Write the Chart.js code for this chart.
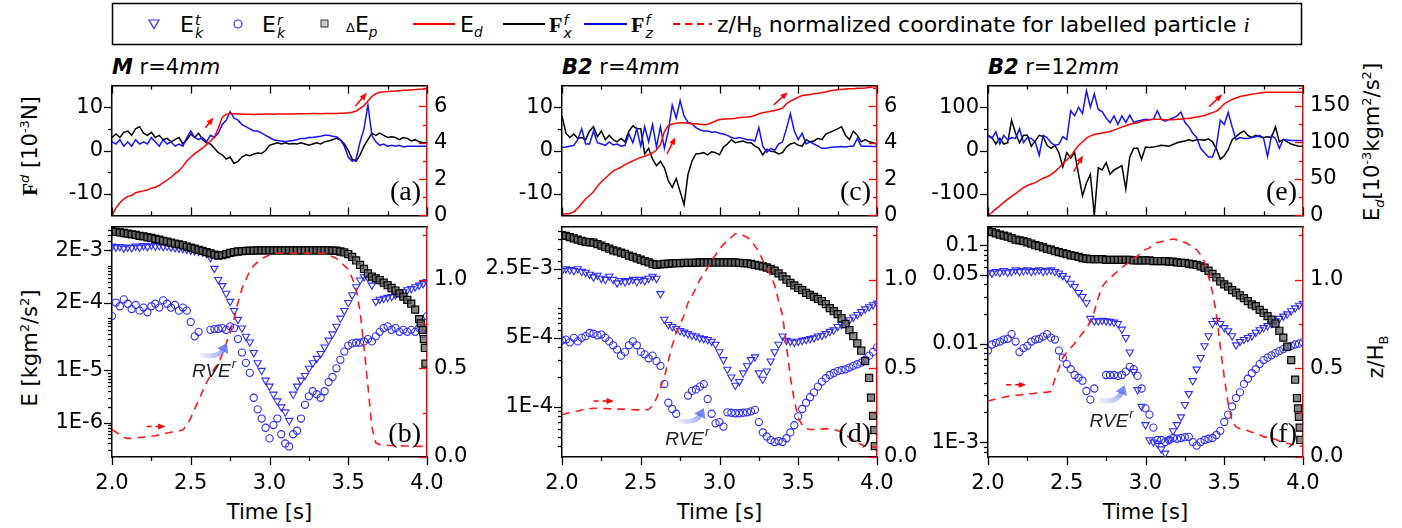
<!DOCTYPE html>
<html>
<head>
<meta charset="utf-8">
<script src="https://cdn.jsdelivr.net/npm/chart.js@4.4.1/dist/chart.umd.min.js"></script>
<style>
html,body{margin:0;padding:0;background:#fff;}
body{position:relative;width:1402px;height:528px;overflow:hidden;font-family:"DejaVu Sans",sans-serif;color:#000;}
canvas{position:absolute;}
.tx{position:absolute;white-space:nowrap;line-height:1;}
.rot{transform:translate(-50%,-50%) rotate(-90deg);}
.ss{display:inline-block;font-size:14px;line-height:13px;vertical-align:-6px;margin-left:1px;font-style:italic;}
.ss>span{display:block;}
.bf{font-family:"Liberation Serif",serif;font-weight:bold;}
sup,sub{font-size:0.62em;line-height:0;}
</style>
</head>
<body>
<svg width="1402" height="528" style="position:absolute;left:0;top:0;">
 <rect x="112.5" y="3.5" width="1189" height="41" fill="none" stroke="#000" stroke-width="1.5"/>
 <polygon points="149,20 159,20 154,28.5" fill="none" stroke="#2e2eff" stroke-width="1.2"/>
 <circle cx="238" cy="24" r="4" fill="none" stroke="#2e2eff" stroke-width="1.2"/>
 <rect x="321" y="20" width="7" height="7" fill="#ccc" stroke="#333" stroke-width="1"/>
 <line x1="413" y1="24" x2="455" y2="24" stroke="#f00" stroke-width="2"/>
 <line x1="503" y1="24" x2="545" y2="24" stroke="#000" stroke-width="2"/>
 <line x1="584" y1="24" x2="627" y2="24" stroke="#00f" stroke-width="2"/>
 <line x1="673" y1="24" x2="712" y2="24" stroke="#f00" stroke-width="2" stroke-dasharray="7,5"/>
</svg>
<div class="tx" style="left:180px;top:14px;font-size:22px">E<span class="ss"><span>t</span><span>k</span></span></div>
<div class="tx" style="left:262px;top:14px;font-size:22px">E<span class="ss"><span>r</span><span>k</span></span></div>
<div class="tx" style="left:346px;top:14px;font-size:22px"><span style="font-size:13px">Δ</span>E<sub><i>p</i></sub></div>
<div class="tx" style="left:460px;top:14px;font-size:22px">E<sub><i>d</i></sub></div>
<div class="tx" style="left:549px;top:14px;font-size:22px"><span class="bf">F</span><span class="ss"><span>f</span><span>x</span></span></div>
<div class="tx" style="left:631px;top:14px;font-size:22px"><span class="bf">F</span><span class="ss"><span>f</span><span>z</span></span></div>
<div class="tx" style="left:717px;top:14px;font-size:22px">z/H<sub>B</sub> normalized coordinate for labelled particle <i style="font-family:'Liberation Serif',serif">i</i></div>

<div class="tx" style="left:112px;top:57px;font-size:21px"><b><i>M</i></b> r=4<i>mm</i></div>
<div class="tx" style="left:562px;top:57px;font-size:21px"><b><i>B2</i></b> r=4<i>mm</i></div>
<div class="tx" style="left:988px;top:57px;font-size:21px"><b><i>B2</i></b> r=12<i>mm</i></div>

<div class="tx rot" style="left:30px;top:146px;font-size:21px"><span class="bf">F</span><sup><i>d</i></sup> [10<sup>-3</sup>N]</div>
<div class="tx rot" style="left:30px;top:348px;font-size:21px">E [kgm<sup>2</sup>/s<sup>2</sup>]</div>
<div class="tx rot" style="left:1372px;top:142px;font-size:21px">E<sub><i>d</i></sub>[10<sup>-3</sup>kgm<sup>2</sup>/s<sup>2</sup>]</div>
<div class="tx rot" style="left:1376px;top:357px;font-size:21px">z/H<sub>B</sub></div>

<div class="tx" style="left:269.5px;top:502px;font-size:21px;transform:translateX(-50%)">Time [s]</div>
<div class="tx" style="left:719.5px;top:502px;font-size:21px;transform:translateX(-50%)">Time [s]</div>
<div class="tx" style="left:1145.5px;top:502px;font-size:21px;transform:translateX(-50%)">Time [s]</div>

<script>
// ---------- time axis (s) ----------
const T = [2.000,2.025,2.050,2.075,2.100,2.125,2.150,2.175,2.200,2.225,2.250,2.275,2.300,2.325,2.350,2.375,2.400,2.425,2.450,2.475,2.500,2.525,2.550,2.575,2.600,2.625,2.650,2.675,2.700,2.725,2.750,2.775,2.800,2.825,2.850,2.875,2.900,2.925,2.950,2.975,3.000,3.025,3.050,3.075,3.100,3.125,3.150,3.175,3.200,3.225,3.250,3.275,3.300,3.325,3.350,3.375,3.400,3.425,3.450,3.475,3.500,3.525,3.550,3.575,3.600,3.625,3.650,3.675,3.700,3.725,3.750,3.775,3.800,3.825,3.850,3.875,3.900,3.925,3.950,3.975,4.000];

// ---------- panel (a): M r=4mm ----------
const fxA = [3.0,3.8,3.0,4.2,4.5,3.5,5.0,5.5,4.0,3.5, 4.2,3.0,3.5,2.5,2.8,2.0,2.5,3.0,1.5,2.5, 3.8,3.0,4.0,2.5,1.8,1.5,0.5,-0.5,-1.0,-2.0, -1.5,-3.0,-2.5,-1.5,-1.0,-1.2,-0.8,-0.6,-0.7,0.0, 1.2,1.5,1.8,1.5,1.8,1.5,1.6,1.5,1.8,1.5, 1.2,1.5,1.8,1.5,2.0,2.2,2.5,2.8,2.5,1.5, 0.0,-2.0,-2.5,-1.0,1.0,2.5,4.0,3.5,4.0,3.5, 3.0,3.2,3.0,2.5,3.0,2.8,2.2,2.5,2.0,1.8, 1.8];
const fzA = [2.0,1.5,2.5,1.0,2.0,1.0,2.5,1.5,2.0,1.5, 3.0,2.0,1.0,2.5,1.5,2.0,1.0,1.5,1.0,3.0, 4.5,3.0,2.5,3.0,2.0,3.5,3.0,4.0,6.0,7.0, 9.0,7.5,7.0,6.0,5.5,5.0,4.5,4.5,4.0,3.5, 3.0,2.5,2.3,2.2,2.0,2.2,2.3,2.5,2.8,2.8, 3.0,3.0,3.2,3.3,3.5,3.5,3.3,3.2,2.5,1.0, -1.5,-2.5,-2.0,2.0,5.0,10.5,3.5,2.0,1.2,1.5, 1.0,1.2,1.0,1.2,0.8,1.0,1.0,1.0,1.0,1.0, 1.0];
const edA = [0.0,0.4,0.7,0.9,1.05,1.1,1.25,1.3,1.35,1.4, 1.5,1.55,1.65,1.8,1.95,2.1,2.3,2.45,2.7,3.0, 3.2,3.4,3.55,3.7,3.9,4.1,4.3,4.8,5.4,5.58, 5.6,5.6,5.58,5.58,5.57,5.57,5.56,5.57,5.57,5.58, 5.58,5.57,5.58,5.58,5.59,5.58,5.59,5.6,5.6,5.6, 5.6,5.61,5.61,5.6,5.61,5.62,5.62,5.62,5.63,5.63, 5.65,5.68,5.75,5.9,6.05,6.3,6.55,6.7,6.78,6.8, 6.82,6.84,6.85,6.87,6.89,6.9,6.92,6.93,6.95,6.96, 6.98];

// ---------- panel (b) ----------
const ekTB = [2.4e-3,2.3e-3,2.35e-3,2.2e-3,2.3e-3,2.25e-3,2.4e-3,2.3e-3,2.45e-3,2.35e-3, 2.5e-3,2.4e-3,2.45e-3,2.35e-3,2.4e-3,2.3e-3,2.25e-3,2.2e-3,2.15e-3,2.1e-3, 2.0e-3,1.95e-3,1.9e-3,1.85e-3,1.75e-3,1.45e-3,9e-4,5.5e-4,4.2e-4,3e-4, 2.1e-4,1.4e-4,9.5e-5,6.5e-5,4.5e-5,3.5e-5,2.2e-5,1.4e-5,1e-5,6.5e-6, 5e-6,3.5e-6,2.6e-6,2e-6,1.6e-6,1.1e-6,3.5e-6,5e-6,6.5e-6,8e-6, 1.1e-5,1.4e-5,1.7e-5,2.1e-5,2.8e-5,3.8e-5,5e-5,7e-5,1e-4,1.4e-4, 2e-4,2.8e-4,4e-4,5.4e-4,6.2e-4,6e-4,4.3e-4,2.1e-4,2.3e-4,2.4e-4, 2.5e-4,2.6e-4,2.8e-4,3e-4,3.2e-4,3.5e-4,3.7e-4,4e-4,4.3e-4,4.6e-4, 5e-4];
const ekRB = [1.1e-4,2e-4,1.7e-4,2.3e-4,1.9e-4,1.5e-4,1.8e-4,1.4e-4,1.6e-4,1.3e-4, 1.7e-4,1.9e-4,1.6e-4,2.2e-4,1.9e-4,1.6e-4,1.8e-4,1.4e-4,1.6e-4,1.4e-4, 8.5e-5,4.5e-5,5.5e-5,null,null,6e-5,6.2e-5,6.3e-5,6.5e-5,6e-5, 7e-5,6.5e-5,4e-5,2.2e-5,1.4e-5,9e-6,3e-6,1.8e-6,1.2e-6,8e-7, 5e-7,9e-7,1.2e-6,6e-7,4e-7,3.5e-7,6e-7,7e-7,1.2e-6,2.2e-6, 3.2e-6,4e-6,3.5e-6,3e-6,4e-6,6e-6,7.5e-6,1.1e-5,1.6e-5,2.3e-5, 3e-5,3.3e-5,3.4e-5,3.4e-5,3.6e-5,4e-5,3.6e-5,4.5e-5,5.5e-5,6.5e-5, 7e-5,6e-5,6.5e-5,5.5e-5,6e-5,5.5e-5,6e-5,5.5e-5,6.5e-5,5e-5, 1.1e-4];
const epB = [4.6e-3,4.5e-3,4.4e-3,4.3e-3,4.2e-3,4.05e-3,3.95e-3,3.8e-3,3.7e-3,3.55e-3, 3.45e-3,3.3e-3,3.2e-3,3.05e-3,2.95e-3,2.8e-3,2.7e-3,2.6e-3,2.5e-3,2.35e-3, 2.25e-3,2.15e-3,2.05e-3,1.95e-3,1.85e-3,1.75e-3,1.65e-3,1.58e-3,1.62e-3,1.7e-3, 1.78e-3,1.85e-3,1.9e-3,1.93e-3,1.95e-3,1.97e-3,1.98e-3,2.0e-3,2.0e-3,2.0e-3, 2.0e-3,2.0e-3,2.0e-3,2.0e-3,2.0e-3,2.0e-3,2.0e-3,2.0e-3,2.0e-3,2.0e-3, 2.0e-3,2.0e-3,2.0e-3,2.0e-3,1.99e-3,1.99e-3,1.98e-3,1.97e-3,1.9e-3,1.82e-3, 1.7e-3,1.5e-3,1.28e-3,1.05e-3,8.8e-4,7.2e-4,6.3e-4,5.8e-4,5.4e-4,4.8e-4, 4.3e-4,3.8e-4,3.4e-4,3.0e-4,2.6e-4,2.25e-4,1.9e-4,1.46e-4,9.6e-5];
const tEpTailB = [3.96,3.972,3.98,3.986,3.99];
const epTailB = [8e-5,6e-5,4e-5,2.7e-5,1.35e-5];
const zB = [0.155,0.14,0.125,0.11,0.105,0.105,0.108,0.11,0.112,0.115, 0.117,0.12,0.125,0.13,0.135,0.14,0.145,0.148,0.152,0.18, 0.22,0.27,0.32,0.37,0.42,0.46,0.5,0.53,0.58,0.64, 0.7,0.78,0.87,0.95,1.0,1.05,1.08,1.1,1.12,1.13, 1.14,1.15,1.15,1.15,1.15,1.15,1.15,1.15,1.15,1.15, 1.15,1.15,1.15,1.15,1.15,1.14,1.13,1.12,1.1,1.08, 1.06,1.01,0.95,0.82,0.62,0.4,0.17,0.08,0.07,0.068, 0.066,0.065,0.064,0.063,0.062,0.062,0.061,0.061,0.06,0.06, 0.06];

// ---------- panel (c): B2 r=4mm ----------
const fxC = [8.0,4.0,3.0,3.8,2.8,3.0,2.5,4.5,5.5,3.2, 4.5,2.5,3.5,2.5,2.0,2.8,2.0,4.5,5.7,5.0, 5.0,-0.8,0.5,-2.0,-3.5,-2.5,-4.0,-7.0,-8.5,-6.5, -9.5,-12.5,-5.5,-2.5,-0.8,-0.7,-0.5,-1.0,-0.3,-0.5, -1.0,0.8,1.5,2.5,1.8,2.0,2.2,1.8,1.8,1.0, 0.5,-1.0,0.3,-0.2,-0.3,-0.8,-0.5,0.8,1.5,1.8, 1.2,1.0,2.5,2.0,2.2,2.8,2.5,3.8,4.2,4.6, 5.0,5.5,3.5,2.5,4.5,3.5,2.0,2.5,2.0,1.8, 1.5];
const fzC = [0.7,0.8,1.0,1.2,2.5,5.0,1.5,1.5,4.5,1.8, 1.5,1.2,2.0,1.3,1.5,1.0,1.2,3.8,1.8,5.0, 1.0,5.5,2.0,6.0,0.8,5.5,0.5,4.5,10.5,7.5, 11.5,8.0,6.5,6.2,5.3,4.8,4.5,4.5,4.2,4.3, 4.0,3.8,3.5,3.0,2.8,3.0,2.8,2.5,2.5,2.2, 5.3,1.0,-0.4,0.5,0.0,1.5,2.0,5.0,8.5,4.5, 2.5,4.0,1.5,2.0,1.5,1.0,0.5,0.5,0.7,0.8, 0.8,0.9,0.8,1.0,1.0,2.8,1.0,1.0,1.0,0.9, 0.9];
const edC = [0.08,0.08,0.1,0.2,0.4,0.65,0.9,1.1,1.3,1.6, 1.85,2.05,2.25,2.45,2.55,2.65,2.8,2.9,3.0,3.1, 3.2,3.25,3.35,3.45,3.6,3.9,4.6,4.95,5.03,5.08, 5.1,5.1,5.08,5.05,5.05,5.02,5.0,5.02,5.1,5.2, 5.28,5.3,5.32,5.33,5.35,5.38,5.4,5.42,5.45,5.5, 5.6,5.66,5.7,5.74,5.78,5.83,5.9,6.15,6.3,6.4, 6.5,6.6,6.63,6.66,6.7,6.73,6.76,6.8,6.85,6.9, 6.92,6.94,6.96,6.97,6.98,7.0,7.0,7.02,7.05,7.08, 7.1];

// ---------- panel (d) ----------
const ekTD = [2.4e-3,2.5e-3,2.45e-3,2.4e-3,2.5e-3,2.35e-3,2.3e-3,2.2e-3,2.07e-3,2.15e-3, 2.0e-3,1.95e-3,2.1e-3,1.95e-3,1.8e-3,1.9e-3,1.85e-3,1.9e-3,1.95e-3,1.85e-3, 1.95e-3,1.9e-3,2.0e-3,2.1e-3,2.0e-3,1.4e-3,7.7e-4,6.8e-4,6.5e-4,6.2e-4, 5.9e-4,5.7e-4,5.5e-4,5.3e-4,5.2e-4,5.0e-4,4.9e-4,4.8e-4,4.6e-4,4.3e-4, 3.6e-4,3.0e-4,2.4e-4,2.0e-4,1.65e-4,1.8e-4,2.2e-4,2.6e-4,3.0e-4,3.2e-4, 2.2e-4,1.9e-4,2.3e-4,2.9e-4,3.6e-4,4.3e-4,5.2e-4,4.7e-4,4.6e-4,4.5e-4, 4.6e-4,4.7e-4,4.8e-4,4.9e-4,5.0e-4,5.2e-4,5.3e-4,5.5e-4,5.8e-4,6.0e-4, 6.5e-4,6.8e-4,7.2e-4,7.6e-4,8.1e-4,8.6e-4,9.2e-4,9.8e-4,1.03e-3,1.08e-3, 1.12e-3];
const ekRD = [4.7e-4,4.8e-4,4.5e-4,5.0e-4,4.6e-4,5.0e-4,5.2e-4,5.6e-4,5.5e-4,5.3e-4, 5.4e-4,5.0e-4,4.6e-4,4.2e-4,3.8e-4,3.3e-4,3.6e-4,4.2e-4,4.6e-4,4.2e-4, 3.6e-4,3.4e-4,3.1e-4,3.3e-4,2.9e-4,2.6e-4,1.7e-4,1.1e-4,9.5e-5,8.5e-5, null,null,1.3e-4,1.45e-4,1.5e-4,1.6e-4,1.7e-4,1.2e-4,8.5e-5,6.8e-5, 7e-5,6.3e-5,8.8e-5,8.7e-5,8.6e-5,8.6e-5,8.7e-5,8.8e-5,9e-5,9.3e-5, 7e-5,5.5e-5,5e-5,4.6e-5,4.4e-5,4.5e-5,4.4e-5,4.8e-5,5.5e-5,6.5e-5, 8e-5,9.5e-5,1.1e-4,1.25e-4,1.4e-4,1.6e-4,1.8e-4,1.95e-4,2.1e-4,2.2e-4, 2.3e-4,2.35e-4,2.4e-4,2.5e-4,2.6e-4,2.7e-4,2.8e-4,3.0e-4,3.3e-4,3.6e-4, 4.0e-4];
const epD = [5.5e-3,5.4e-3,5.25e-3,5.1e-3,4.95e-3,4.8e-3,4.7e-3,4.65e-3,4.6e-3,4.45e-3, 4.3e-3,4.15e-3,4.0e-3,3.85e-3,3.75e-3,3.65e-3,3.55e-3,3.4e-3,3.3e-3,3.2e-3, 3.1e-3,3.0e-3,2.9e-3,2.8e-3,2.75e-3,2.78e-3,2.8e-3,2.82e-3,2.84e-3,2.85e-3, 2.86e-3,2.87e-3,2.88e-3,2.88e-3,2.89e-3,2.9e-3,2.9e-3,2.9e-3,2.9e-3,2.9e-3, 2.9e-3,2.9e-3,2.9e-3,2.9e-3,2.9e-3,2.88e-3,2.86e-3,2.84e-3,2.8e-3,2.75e-3, 2.7e-3,2.65e-3,2.58e-3,2.5e-3,2.4e-3,2.25e-3,2.1e-3,1.95e-3,1.8e-3,1.7e-3, 1.6e-3,1.52e-3,1.43e-3,1.36e-3,1.3e-3,1.24e-3,1.18e-3,1.1e-3,1.0e-3,9.3e-4, 8.7e-4,7.9e-4,6.9e-4,6.0e-4,5.2e-4,4.4e-4,3.7e-4,2.9e-4,1.96e-4];
const tEpTailD = [3.962,3.975,3.983,3.986];
const epTailD = [1.24e-4,8.1e-5,5.8e-5,4e-5];
const zD = [0.238,0.245,0.25,0.255,0.26,0.265,0.268,0.272,0.275,0.275, 0.274,0.273,0.272,0.271,0.27,0.27,0.269,0.268,0.267,0.266, 0.266,0.266,0.268,0.29,0.33,0.39,0.45,0.54,0.63,0.7, 0.75,0.8,0.87,0.91,0.95,1.0,1.03,1.07,1.11,1.14, 1.17,1.2,1.22,1.24,1.26,1.26,1.25,1.24,1.22,1.19, 1.16,1.11,1.07,1.02,0.97,0.88,0.8,0.63,0.45,0.32, 0.22,0.18,0.16,0.155,0.155,0.156,0.158,0.16,0.158,0.155, 0.15,0.14,0.125,0.11,0.095,0.08,0.07,0.062,0.058,0.055, 0.055];

// ---------- panel (e): B2 r=12mm ----------
const fxE = [35,30,15,28,15,18,70,40,18,35, 35,10,22,35,32,12,5,12,-5,-38, -5,-18,-5,-55,-105,-75,-55,-150,-40,-45, -28,-55,-45,-40,-35,-89,-15,5,5,-20, 8,7,8,10,12,11,10,14,18,20, 22,25,22,25,25,24,27,20,4,-20, -12,2,25,32,40,45,35,30,35,32, 30,32,30,55,20,25,20,15,12,10, 10];
const fzE = [35,28,43,15,35,25,30,28,50,18, 30,28,20,-11,35,30,18,12,14,32, 25,92,80,100,85,138,100,131,95,90, 75,64,80,60,80,65,82,65,68,70, 72,71,72,92,72,68,72,75,80,89, 65,55,40,30,5,-5,-15,-15,10,70, 60,88,55,25,30,28,28,30,32,35, 28,-14,35,28,5,26,24,23,23,23, 23];
const edE = [0,4,9,13,18,22,26,30,34,38, 41,43,45,48,51,53,56,60,65,71, 76,81,89,96,101,106,109,111,112,113, 114,115,117,119,121,123,125,126,127,129, 130,131,132,132,132,131,131,131,132,132, 133,133,134,135,136,137,139,141,143,147, 153,156,159,161,163,164,165,166,167,168, 168.5,169,169,169,169,169,169,169,169,169, 169];

// ---------- panel (f) ----------
const ekTF = [0.053,0.052,0.054,0.053,0.055,0.053,0.054,0.056,0.054,0.055, 0.056,0.054,0.055,0.056,0.054,0.055,0.056,0.054,0.052,0.049, 0.046,0.041,0.038,0.033,0.03,0.026,0.018,0.017,0.017,0.0172, 0.017,0.0168,0.0165,0.016,0.014,0.0115,0.0082,0.0052,0.0034,0.0023, 0.0015,0.00105,0.001,0.00097,0.00085,0.00077,0.00105,0.0013,0.0015,0.0018, 0.0024,0.0031,0.0042,0.0055,0.0072,0.0095,0.012,0.016,0.0172,0.016, 0.0145,0.0135,0.012,0.0097,0.0105,0.011,0.0115,0.012,0.013,0.0138, 0.0145,0.0152,0.016,0.017,0.018,0.019,0.02,0.0215,0.023,0.0245, 0.0257];
const ekRF = [0.0085,0.0098,0.0102,0.0105,0.011,0.0112,0.0125,0.0105,0.0082,0.009, 0.0095,0.0105,0.011,0.0112,0.0118,0.0125,0.0115,0.011,0.0085,0.0072, 0.0062,0.0055,0.0048,0.0045,0.0042,0.0033,0.0027,0.0035,null,null, 0.0048,0.0048,0.0048,0.0047,0.0048,0.0052,0.0058,0.0055,0.0047,0.0035, 0.0022,0.0019,0.0014,0.00105,0.00105,0.001,0.00105,0.0011,0.00108,0.0011, 0.00112,0.00113,0.001,0.00092,0.001,0.00105,0.00108,0.0011,0.00118,0.0013, 0.0016,0.0019,0.0023,0.0028,0.0032,0.0039,0.0044,0.005,0.0055,0.0062, 0.0068,0.0072,0.0076,0.008,0.0084,0.0088,0.0092,0.0095,0.0098,0.01, 0.0103];
const epF = [0.14,0.136,0.132,0.128,0.125,0.122,0.118,0.114,0.112,0.11, 0.107,0.104,0.1,0.098,0.095,0.092,0.09,0.087,0.085,0.083, 0.081,0.079,0.078,0.076,0.074,0.073,0.072,0.072,0.072,0.072, 0.071,0.071,0.071,0.071,0.071,0.071,0.071,0.07,0.07,0.07, 0.07,0.07,0.069,0.069,0.069,0.069,0.068,0.068,0.067,0.066, 0.066,0.065,0.064,0.063,0.061,0.059,0.055,0.051,0.047,0.043, 0.04,0.038,0.035,0.033,0.031,0.029,0.027,0.025,0.024,0.022, 0.0205,0.019,0.0175,0.016,0.0135,0.0115,0.0093,0.0068,0.0043];
const tEpTailF = [3.962,3.968,3.974,3.979,3.983];
const epTailF = [0.0028,0.0022,0.0018,0.0014,0.00105];
const zF = [0.316,0.322,0.328,0.333,0.337,0.342,0.345,0.348,0.35,0.352, 0.355,0.357,0.36,0.362,0.364,0.366,0.37,0.44,0.5,0.56, 0.59,0.615,0.64,0.67,0.7,0.72,0.77,0.82,0.9,0.96, 0.99,1.01,1.03,1.05,1.07,1.085,1.1,1.12,1.135,1.155, 1.17,1.18,1.2,1.21,1.215,1.22,1.225,1.23,1.225,1.22, 1.21,1.2,1.18,1.17,1.14,1.1,1.02,0.93,0.81,0.62, 0.45,0.3,0.2,0.17,0.16,0.155,0.148,0.14,0.133,0.125, 0.115,0.11,0.105,0.1,0.09,0.085,0.077,0.072,0.068,0.062, 0.06];

// ---------- ticks ----------
const xTicks = [2.0,2.5,3.0,3.5,4.0];
const xTickLabels = ["2.0","2.5","3.0","3.5","4.0"];
const xMinor = [2.25,2.75,3.25,3.75];
const fTicksAC = [-10,0,10], fMinorAC = [-5,5];
const fTicksE = [-100,0,100], fMinorE = [-50,50];
const edTicksAC = [0,2,4,6], edMinorAC = [1,3,5,7];
const edTicksE = [0,50,100,150], edMinorE = [25,75,125,175];
const zTicks = [0,0.5,1.0], zTickLabels = ["0.0","0.5","1.0"], zMinor = [0.25,0.75,1.25];
const logTicksB = [2e-3,2e-4,1e-5,1e-6], logLabelsB = ["2E-3","2E-4","1E-5","1E-6"];
const logTicksD = [2.5e-3,5e-4,1e-4], logLabelsD = ["2.5E-3","5E-4","1E-4"];
const logTicksF = [0.1,0.05,0.01,1e-3], logLabelsF = ["0.1","0.05","0.01","1E-3"];

// ---------- annotations (data coords) ----------
const arrowsA = [[2.593,4.83,2.645,5.39],[3.545,6.02,3.619,6.75]];
const arrowsC = [[2.667,3.38,2.72,4.31],[3.344,6.08,3.433,6.79]];
const arrowsE = [[2.544,60,2.603,82],[3.403,149,3.488,166]];
const dashArrowB = [2.22,0.172,2.34,0.172];
const dashArrowD = [2.20,0.316,2.33,0.316];
const dashArrowF = [2.116,0.407,2.243,0.407];
const rveArrowB = [2.56,1.95e-5,2.73,3.36e-5], rveTextB = [2.508,7.4e-6];
const rveArrowD = [2.74,7.2e-5,2.90,9.7e-5], rveTextD = [2.656,4.1e-5];
const rveArrowF = [2.709,2.65e-3,2.868,3.77e-3], rveTextF = [2.645,1.42e-3];

// ---------- helpers ----------
const FONT = {family:'DejaVu Sans', size:21};
const BLUE_M = '#2e2eff';
const pts = (xs, ys) => ys.map((y,i) => ({x: xs[i], y: y}));
const setTicks = vals => s => { s.ticks = vals.map(v => ({value: v})); };
const labelFrom = (vals, labels) => v => { const i = vals.findIndex(u => Math.abs(u - v) <= Math.abs(u) * 1e-9 + 1e-12); return i >= 0 ? labels[i] : ''; };
function logMinors(min, max, majors) {
  const out = [];
  for (let e = Math.floor(Math.log10(min)); e <= Math.ceil(Math.log10(max)); e++)
    for (let k = 1; k <= 9; k++) {
      const v = k * Math.pow(10, e);
      if (v >= min && v <= max && !majors.some(m => Math.abs(m - v) < v * 1e-6)) out.push(v);
    }
  return out;
}
function toPx(chart, ax, p) { return [chart.scales.x.getPixelForValue(p[0]), chart.scales[ax].getPixelForValue(p[1])]; }
function drawArrow(ctx, a, b, color, dash, w, head) {
  const ang = Math.atan2(b[1] - a[1], b[0] - a[0]);
  ctx.strokeStyle = color; ctx.fillStyle = color; ctx.lineWidth = w; ctx.setLineDash(dash || []);
  ctx.beginPath(); ctx.moveTo(a[0], a[1]); ctx.lineTo(b[0] - Math.cos(ang) * head * 0.7, b[1] - Math.sin(ang) * head * 0.7); ctx.stroke();
  ctx.setLineDash([]);
  ctx.beginPath(); ctx.moveTo(b[0], b[1]);
  ctx.lineTo(b[0] - Math.cos(ang - 0.38) * head, b[1] - Math.sin(ang - 0.38) * head);
  ctx.lineTo(b[0] - Math.cos(ang + 0.38) * head, b[1] - Math.sin(ang + 0.38) * head);
  ctx.closePath(); ctx.fill();
}

const decorPlugin = {
  id: 'decor',
  afterDraw(chart) {
    const o = chart.options.plugins.decor; if (!o) return;
    const ctx = chart.ctx, ca = chart.chartArea;
    ctx.save();
    for (const tk of o.ticks) {
      const sc = chart.scales[tk.axis];
      ctx.strokeStyle = tk.color || '#000'; ctx.lineWidth = 1.3;
      for (const [vals, len] of [[tk.major, 8], [tk.minor, 4]]) for (const v of vals) {
        if (v < sc.min * (1 - 1e-9) - 1e-12 || v > sc.max * (1 + 1e-9) + 1e-12) continue;
        const p = Math.round(sc.getPixelForValue(v)) + 0.5;
        ctx.beginPath();
        if (tk.edge === 'bottom' || tk.edge === 'top') {
          const y0 = tk.edge === 'top' ? ca.top : ca.bottom;
          ctx.moveTo(p, y0); ctx.lineTo(p, y0 + tk.dir * len);
        } else {
          const x0 = tk.edge === 'left' ? ca.left : ca.right;
          ctx.moveTo(x0, p); ctx.lineTo(x0 + tk.dir * len, p);
        }
        ctx.stroke();
      }
    }
    (o.arrows || []).forEach(a => drawArrow(ctx, toPx(chart, 'yR', [a[0], a[1]]), toPx(chart, 'yR', [a[2], a[3]]), '#f00', null, 1.5, 8));
    if (o.dashArrow) { const a = o.dashArrow; drawArrow(ctx, toPx(chart, 'yR', [a[0], a[1]]), toPx(chart, 'yR', [a[2], a[3]]), '#f00', [5, 4], 1.5, 8); }
    if (o.rveArrow) {
      const a = toPx(chart, 'y', [o.rveArrow[0], o.rveArrow[1]]), b = toPx(chart, 'y', [o.rveArrow[2], o.rveArrow[3]]);
      const c = [b[0] - (b[0] - a[0]) * 0.3, a[1] + 3];
      const g = ctx.createLinearGradient(a[0], a[1], b[0], b[1]);
      g.addColorStop(0, 'rgba(170,180,255,0.25)'); g.addColorStop(1, 'rgba(95,115,240,0.85)');
      ctx.strokeStyle = g; ctx.lineWidth = 5; ctx.lineCap = 'butt';
      const ang = Math.atan2(b[1] - c[1], b[0] - c[0]);
      const e = [b[0] - Math.cos(ang) * 7, b[1] - Math.sin(ang) * 7];
      ctx.beginPath(); ctx.moveTo(a[0], a[1]); ctx.quadraticCurveTo(c[0], c[1], e[0], e[1]); ctx.stroke();
      ctx.fillStyle = 'rgba(95,115,240,0.85)';
      ctx.beginPath(); ctx.moveTo(b[0], b[1]);
      ctx.lineTo(b[0] - Math.cos(ang - 0.6) * 11, b[1] - Math.sin(ang - 0.6) * 11);
      ctx.lineTo(b[0] - Math.cos(ang + 0.6) * 11, b[1] - Math.sin(ang + 0.6) * 11);
      ctx.closePath(); ctx.fill();
    }
    if (o.rveText) {
      const p = toPx(chart, 'y', o.rveText);
      ctx.fillStyle = '#222'; ctx.textAlign = 'left'; ctx.textBaseline = 'alphabetic';
      ctx.font = 'italic 19px "Liberation Sans"'; ctx.fillText('RVE', p[0], p[1]);
      const w = ctx.measureText('RVE').width;
      ctx.font = 'italic 13px "Liberation Sans"'; ctx.fillText('r', p[0] + w + 1, p[1] - 9);
    }
    if (o.label) {
      ctx.fillStyle = '#000'; ctx.font = '28px "Liberation Serif"'; ctx.textAlign = 'right'; ctx.textBaseline = 'alphabetic';
      ctx.fillText(o.label, ca.right - 6, ca.bottom - 15);
    }
    ctx.restore();
  }
};

function makeChart(rect, isBottom, yScale, yRScale, datasets, decor) {
  const padT = 16, padL = 100, padR = 100, xH = isBottom ? 60 : 16;
  const cv = document.createElement('canvas');
  cv.width = rect.w + padL + padR; cv.height = rect.h + padT + xH;
  cv.style.left = (rect.x - padL) + 'px'; cv.style.top = (rect.y - padT) + 'px';
  cv.style.width = cv.width + 'px'; cv.style.height = cv.height + 'px';
  document.body.appendChild(cv);
  const grid = {display: true, drawOnChartArea: false, drawTicks: false};
  new Chart(cv, {
    type: 'scatter',
    data: {datasets: datasets},
    options: {
      responsive: false, animation: false, devicePixelRatio: 1,
      layout: {padding: {top: padT, left: 0, right: 0, bottom: 0}},
      plugins: {legend: {display: false}, tooltip: {enabled: false}, decor: decor},
      scales: {
        x: {type: 'linear', position: 'bottom', min: 2, max: 4, grid: grid,
            border: {display: true, color: '#000', width: 1.5},
            afterBuildTicks: setTicks(xTicks), afterFit: s => { s.height = xH; },
            ticks: {display: isBottom, font: FONT, color: '#000', padding: 14, maxRotation: 0, autoSkip: false, callback: labelFrom(xTicks, xTickLabels)}},
        xTop: {type: 'linear', position: 'top', min: 2, max: 4, grid: grid,
            border: {display: true, color: '#000', width: 1.5},
            ticks: {display: false}, afterFit: s => { s.height = 0; }},
        y: Object.assign({position: 'left', grid: grid, border: {display: true, color: '#000', width: 1.5},
            afterFit: s => { s.width = padL; }}, yScale),
        yR: Object.assign({position: 'right', grid: grid, border: {display: true, color: '#f00', width: 1.5},
            afterFit: s => { s.width = padR; }}, yRScale)
      }
    },
    plugins: [decorPlugin]
  });
}

function topPanel(x, fx, fz, ed, fRange, fTicks, fMinor, edMax, edTicks, edMinor, arrows, label) {
  const lineDs = (data, color, ax, order) => ({data: pts(T, data), showLine: true, borderColor: color, borderWidth: 1.5, pointRadius: 0, tension: 0, yAxisID: ax, order: order});
  makeChart({x: x, y: 80, w: 315, h: 141}, false,
    {type: 'linear', min: fRange[0], max: fRange[1], afterBuildTicks: setTicks(fTicks), ticks: {font: FONT, color: '#000', padding: 9, callback: v => String(v)}},
    {type: 'linear', min: 0, max: edMax, afterBuildTicks: setTicks(edTicks), ticks: {font: FONT, color: '#000', padding: 7, callback: v => String(v)}},
    [lineDs(ed, '#ff0000', 'yR', 0), lineDs(fz, '#1414ff', 'y', 1), lineDs(fx, '#000000', 'y', 2)],
    {ticks: [
      {axis: 'x', edge: 'bottom', dir: -1, major: xTicks, minor: xMinor},
      {axis: 'x', edge: 'top', dir: 1, major: xTicks, minor: xMinor},
      {axis: 'y', edge: 'left', dir: -1, major: fTicks, minor: fMinor},
      {axis: 'yR', edge: 'right', dir: -1, color: '#f00', major: edTicks, minor: edMinor}],
     arrows: arrows, label: label});
}

function bottomPanel(x, ekT, ekR, ep, tTail, epTail, z, eMin, eMax, eTicks, eLabels, dashArrow, rveArrow, rveText, label) {
  const epData = pts(T.slice(0, ep.length), ep).concat(pts(tTail, epTail));
  makeChart({x: x, y: 221, w: 315, h: 236}, true,
    {type: 'logarithmic', min: eMin, max: eMax, afterBuildTicks: setTicks(eTicks), ticks: {font: FONT, color: '#000', padding: 9, callback: labelFrom(eTicks, eLabels)}},
    {type: 'linear', min: 0, max: 1.3, afterBuildTicks: setTicks(zTicks), ticks: {font: FONT, color: '#000', padding: 7, callback: labelFrom(zTicks, zTickLabels)}},
    [
      {data: pts(T, z), showLine: true, borderColor: '#ff1a1a', borderWidth: 1.6, borderDash: [8, 6], pointRadius: 0, tension: 0, yAxisID: 'yR', order: 0},
      {data: epData, pointStyle: 'rect', pointRadius: 5, borderColor: '#000000', backgroundColor: 'rgba(95,95,95,0.75)', borderWidth: 1.2, yAxisID: 'y', order: 1},
      {data: pts(T, ekT), pointStyle: 'triangle', rotation: 180, pointRadius: 4.2, borderColor: BLUE_M, backgroundColor: 'rgba(0,0,0,0)', borderWidth: 1.1, yAxisID: 'y', order: 2},
      {data: pts(T, ekR), pointStyle: 'circle', pointRadius: 3.6, borderColor: BLUE_M, backgroundColor: 'rgba(0,0,0,0)', borderWidth: 1.1, yAxisID: 'y', order: 3}
    ],
    {ticks: [
      {axis: 'x', edge: 'bottom', dir: 1, major: xTicks, minor: xMinor},
      {axis: 'y', edge: 'left', dir: -1, major: eTicks, minor: logMinors(eMin, eMax, eTicks)},
      {axis: 'yR', edge: 'right', dir: -1, color: '#f00', major: zTicks, minor: zMinor}],
     dashArrow: dashArrow, rveArrow: rveArrow, rveText: rveText, label: label});
}

bottomPanel(112, ekTB, ekRB, epB, tEpTailB, epTailB, zB, 2.2e-7, 5.7e-3, logTicksB, logLabelsB, dashArrowB, rveArrowB, rveTextB, '(b)');
bottomPanel(562, ekTD, ekRD, epD, tEpTailD, epTailD, zD, 3.1e-5, 6.7e-3, logTicksD, logLabelsD, dashArrowD, rveArrowD, rveTextD, '(d)');
bottomPanel(988, ekTF, ekRF, epF, tEpTailF, epTailF, zF, 7.05e-4, 0.1545, logTicksF, logLabelsF, dashArrowF, rveArrowF, rveTextF, '(f)');
topPanel(112, fxA, fzA, edA, [-15, 15], fTicksAC, fMinorAC, 7.15, edTicksAC, edMinorAC, arrowsA, '(a)');
topPanel(562, fxC, fzC, edC, [-15, 15], fTicksAC, fMinorAC, 7.15, edTicksAC, edMinorAC, arrowsC, '(c)');
topPanel(988, fxE, fzE, edE, [-150, 150], fTicksE, fMinorE, 178, edTicksE, edMinorE, arrowsE, '(e)');
</script>
</body>
</html>
